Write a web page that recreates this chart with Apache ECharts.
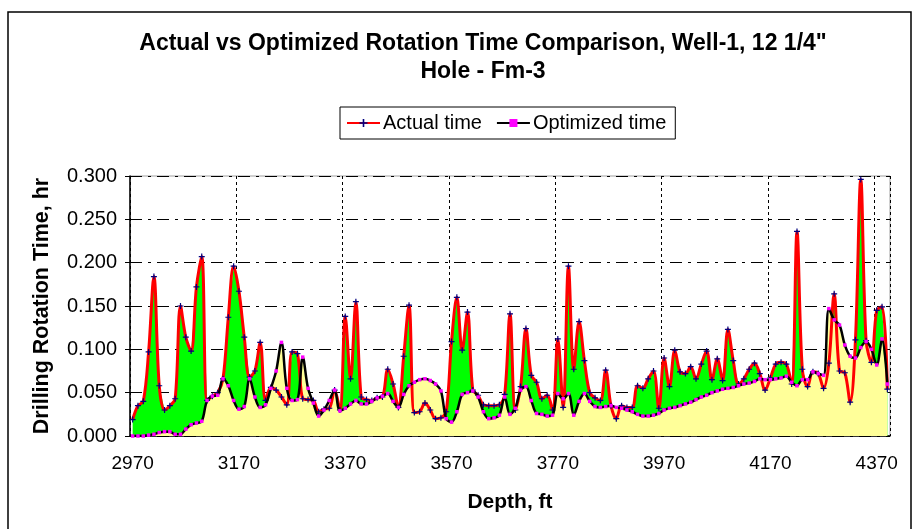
<!DOCTYPE html>
<html>
<head>
<meta charset="utf-8">
<script src="https://cdn.jsdelivr.net/npm/echarts@6/dist/echarts.min.js"></script>
<style>
  html, body { margin: 0; padding: 0; background: #ffffff; }
  #chart { width: 917px; height: 529px; }
</style>
</head>
<body>
<div id="chart"></div>
<script>
// Depth stations, 10 ft apart
const depths = [];
for (let d = 2970; d <= 4390; d += 10) depths.push(String(d));

// Actual rotation time per station, hr
const actualTime = [
  0.019, 0.035, 0.040, 0.097, 0.184, 0.058, 0.030, 0.035, 0.043, 0.150,
  0.114, 0.098, 0.172, 0.207, 0.041, 0.046, 0.050, 0.066, 0.137, 0.196,
  0.167, 0.114, 0.068, 0.075, 0.108, 0.041, 0.056, 0.053, 0.045, 0.036,
  0.097, 0.095, 0.043, 0.042, 0.041, 0.028, 0.031, 0.032, 0.053, 0.030,
  0.138, 0.066, 0.155, 0.045, 0.042, 0.041, 0.044, 0.045, 0.077, 0.060,
  0.033, 0.092, 0.151, 0.027, 0.028, 0.038, 0.030, 0.020, 0.021, 0.028,
  0.109, 0.160, 0.099, 0.143, 0.053, 0.047, 0.036, 0.035, 0.035, 0.036,
  0.048, 0.141, 0.030, 0.057, 0.124, 0.070, 0.062, 0.043, 0.047, 0.030,
  0.112, 0.033, 0.196, 0.077, 0.132, 0.087, 0.050, 0.044, 0.041, 0.076,
  0.035, 0.020, 0.035, 0.033, 0.033, 0.058, 0.055, 0.066, 0.075, 0.032,
  0.090, 0.057, 0.099, 0.074, 0.072, 0.080, 0.066, 0.083, 0.098, 0.065,
  0.089, 0.064, 0.123, 0.087, 0.060, 0.066, 0.077, 0.084, 0.072, 0.053,
  0.067, 0.083, 0.085, 0.083, 0.060, 0.236, 0.077, 0.057, 0.074, 0.072,
  0.055, 0.084, 0.164, 0.075, 0.073, 0.039, 0.111, 0.296, 0.110, 0.085,
  0.145, 0.149, 0.054
];

// Optimized rotation time per station, hr
const optimizedTime = [
  0.000, 0.000, 0.000, 0.001, 0.002, 0.004, 0.005, 0.005, 0.002, 0.002,
  0.008, 0.013, 0.015, 0.017, 0.041, 0.046, 0.047, 0.066, 0.058, 0.041,
  0.031, 0.034, 0.066, 0.045, 0.033, 0.036, 0.055, 0.075, 0.108, 0.055,
  0.041, 0.042, 0.091, 0.055, 0.038, 0.023, 0.030, 0.041, 0.053, 0.029,
  0.032, 0.037, 0.041, 0.037, 0.037, 0.040, 0.044, 0.046, 0.049, 0.040,
  0.033, 0.048, 0.058, 0.062, 0.065, 0.066, 0.064, 0.060, 0.052, 0.020,
  0.016, 0.028, 0.048, 0.050, 0.052, 0.045, 0.028, 0.020, 0.021, 0.024,
  0.045, 0.025, 0.032, 0.053, 0.057, 0.041, 0.026, 0.025, 0.023, 0.024,
  0.049, 0.043, 0.049, 0.024, 0.040, 0.049, 0.040, 0.034, 0.033, 0.034,
  0.035, 0.033, 0.032, 0.030, 0.028, 0.025, 0.023, 0.023, 0.024, 0.026,
  0.030, 0.032, 0.033, 0.035, 0.037, 0.039, 0.042, 0.045, 0.047, 0.050,
  0.052, 0.054, 0.055, 0.056, 0.058, 0.060, 0.061, 0.063, 0.066, 0.065,
  0.065, 0.066, 0.067, 0.069, 0.062, 0.058, 0.065, 0.065, 0.074, 0.072,
  0.070, 0.147, 0.134, 0.128, 0.105, 0.092, 0.090, 0.102, 0.109, 0.100,
  0.082, 0.112, 0.060
];

const titleLines = ['Actual vs Optimized Rotation Time Comparison, Well-1, 12 1/4"', 'Hole - Fm-3'];
const seriesNames = ['Actual time', 'Optimized time'];
const xTitle = 'Depth, ft';
const yTitle = 'Drilling Rotation Time, hr';

const FONT = '"Liberation Sans", Arial, sans-serif';
const plusSymbol = 'path://M-0.6,-3H0.6V-0.6H3V0.6H0.6V3H-0.6V0.6H-3V-0.6H-0.6Z';

const chart = echarts.init(document.getElementById('chart'), null, { renderer: 'canvas' });

chart.setOption({
  animation: false,
  backgroundColor: '#ffffff',
  textStyle: { fontFamily: FONT },
  title: {
    text: titleLines.join('\n'),
    left: 478,
    top: 25,
    textAlign: 'center',
    textStyle: { fontFamily: FONT, fontSize: 23, fontWeight: 'bold', color: '#000', lineHeight: 28 }
  },
  legend: {
    data: seriesNames,
    left: 340,
    top: 107,
    padding: [6, 9, 6, 6],
    itemGap: 14,
    itemWidth: 33,
    itemHeight: 10,
    borderColor: '#000',
    borderWidth: 1,
    backgroundColor: '#fff',
    textStyle: { fontFamily: FONT, fontSize: 20, color: '#000', padding: [0, 0, 0, -2] }
  },
  grid: {
    left: 130, top: 176, width: 760, height: 260,
    show: true, borderColor: '#a0a0a0', borderWidth: 1, backgroundColor: '#ffffff'
  },
  xAxis: {
    type: 'category',
    data: depths,
    boundaryGap: true,
    name: xTitle,
    nameLocation: 'middle',
    nameGap: 56,
    nameTextStyle: { fontFamily: FONT, fontSize: 21, fontWeight: 'bold', color: '#000' },
    axisLine: { lineStyle: { color: '#000', width: 1.5 } },
    axisTick: { interval: 3, length: 5, lineStyle: { color: '#000', width: 1 } },
    axisLabel: { interval: 19, margin: 18, fontFamily: FONT, fontSize: 19, color: '#000' },
    splitLine: { show: true, interval: 19, lineStyle: { color: '#000', width: 1, type: [3, 3] } }
  },
  yAxis: {
    type: 'value',
    min: 0, max: 0.3, interval: 0.05,
    name: yTitle,
    nameLocation: 'middle',
    nameGap: 77,
    nameTextStyle: { fontFamily: FONT, fontSize: 21.5, fontWeight: 'bold', color: '#000' },
    axisLine: { show: true, lineStyle: { color: '#000', width: 1.5 } },
    axisTick: { show: true, length: 5, lineStyle: { color: '#000' } },
    axisLabel: { margin: 13, fontFamily: FONT, fontSize: 20, color: '#000',
      formatter: v => v.toFixed(3) },
    splitLine: { show: true, lineStyle: { color: '#000', width: 1, type: [12, 6, 3, 6] } }
  },
  graphic: [{
    type: 'rect',
    shape: { x: 8, y: 12, width: 903, height: 530 },
    style: { fill: null, stroke: '#000', lineWidth: 1.5 },
    silent: true, z: -10
  }],
  series: [
    {
      name: 'actual-area', type: 'line', data: actualTime,
      showSymbol: false, lineStyle: { width: 0 },
      areaStyle: { color: '#00ff00', opacity: 1 }, z: 1, silent: true
    },
    {
      name: 'optimized-area', type: 'line', data: optimizedTime,
      showSymbol: false, lineStyle: { width: 0 },
      areaStyle: { color: '#ffff99', opacity: 1 }, z: 2, silent: true
    },
    {
      name: seriesNames[0], type: 'line', data: actualTime, smooth: 0.35,
      symbol: plusSymbol, symbolSize: 6, showAllSymbol: true,
      lineStyle: { color: '#ff0000', width: 3 },
      itemStyle: { color: '#000080' }, z: 3
    },
    {
      name: seriesNames[1], type: 'line', data: optimizedTime, smooth: 0.35,
      symbol: 'rect', symbolSize: 3.5, showAllSymbol: true,
      lineStyle: { color: '#000000', width: 2.5 },
      itemStyle: { color: '#ff00ff' }, z: 4
    }
  ]
});
</script>
</body>
</html>
